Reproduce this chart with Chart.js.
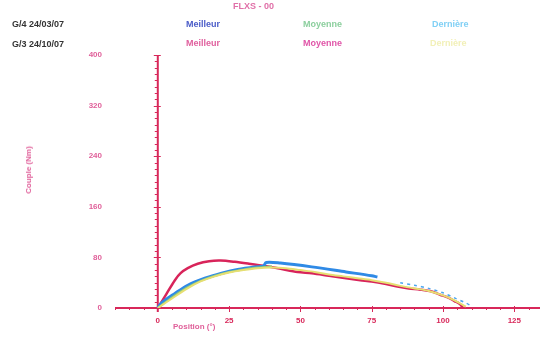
<!DOCTYPE html>
<html><head><meta charset="utf-8">
<script src="https://cdn.jsdelivr.net/npm/chart.js@4/dist/chart.umd.min.js"></script>
<style>
html,body{margin:0;padding:0;background:#fff;}
#wrap{position:relative;width:541px;height:338px;font-family:"Liberation Sans",Arial,sans-serif;font-weight:bold;font-size:9px;}
canvas{position:absolute;left:0;top:0;}
.t{position:absolute;white-space:nowrap;line-height:10px;}
</style></head>
<body>
<div id="wrap">
<canvas id="c" width="541" height="338"></canvas>
<div class="t" style="left:233px;top:1px;color:#e070a8;">FLXS - 00</div>
<div class="t" style="left:12px;top:19px;color:#333;">G/4 24/03/07</div>
<div class="t" style="left:12px;top:39px;color:#333;">G/3 24/10/07</div>
<div class="t" style="left:186px;top:19px;color:#4a5cc8;">Meilleur</div>
<div class="t" style="left:303px;top:19px;color:#8ccf9e;">Moyenne</div>
<div class="t" style="left:432px;top:19px;color:#80d0f5;">Dernière</div>
<div class="t" style="left:186px;top:38px;color:#e0609e;">Meilleur</div>
<div class="t" style="left:303px;top:38px;color:#e055a8;">Moyenne</div>
<div class="t" style="left:430px;top:38px;color:#f2f0b8;">Dernière</div>
<div class="t" style="left:29px;top:170px;color:#e0609a;font-size:8px;transform:translate(-50%,-50%) rotate(-90deg);">Couple (Nm)</div>
<div class="t" style="left:173px;top:322px;color:#e0609a;font-size:8px;">Position (°)</div>
</div>
<script>
const xTicks = [0, 25, 50, 75, 100, 125];
const yTicks = [0, 80, 160, 240, 320, 400];

const g3MeilleurX = [0, 3, 6, 8, 10.5, 14, 18, 22, 27, 32, 38, 43, 49, 54, 60, 66, 71, 75, 80, 84, 88, 92, 96, 99, 102, 104, 106, 107];
const g3MeilleurY = [0, 22, 44, 55, 63, 70, 74, 75, 73, 70, 66, 62, 57, 55, 51, 47, 44, 42, 38, 34, 31, 29, 26, 21, 16, 11, 6, 0];

const g4MeilleurX = [0, 1.3, 6, 10.5, 16.5, 22.4, 28, 34, 37, 38, 43, 54, 66, 75, 77];
const g4MeilleurY = [0, 8, 23, 36, 47, 55, 61, 65, 66, 72, 71, 65, 57, 51, 49];

const g4MoyenneX = [0, 5, 10, 15, 20, 25, 30, 35, 40];
const g4MoyenneY = [0, 17, 32, 43, 51, 57, 61, 64, 66];

const g3DerniereX = [0, 5, 10, 15, 20, 25, 30, 35, 40, 45, 50, 55, 60, 65, 70, 75, 80, 85, 90, 95, 100, 104, 108];
const g3DerniereY = [0, 15, 30, 42, 50, 56, 60, 63, 64, 63, 60, 57, 53, 50, 47, 44, 40, 35, 31, 27, 20, 12, 2];

const g4DerniereX = [85, 90, 95, 100, 104, 108, 110];
const g4DerniereY = [40, 36, 31, 24, 16, 8, 3];

const pts = (xs, ys) => xs.map((x, i) => ({x: x, y: ys[i]}));
const AXIS = '#d8285a';

const axisPlugin = {
  id: 'axes0',
  beforeDatasetsDraw(chart) {
    const {ctx, scales: {x, y}} = chart;
    const x0 = x.getPixelForValue(0), y0 = y.getPixelForValue(0);
    ctx.save();
    ctx.strokeStyle = AXIS;
    ctx.lineWidth = 2;
    ctx.beginPath();
    ctx.moveTo(x0, y.getPixelForValue(400)); ctx.lineTo(x0, y0 + 4);
    ctx.moveTo(x.left, y0); ctx.lineTo(x.right, y0);
    ctx.stroke();
    ctx.lineWidth = 1;
    ctx.beginPath();
    for (let v = 0; v <= 400; v += 10) {
      const p = Math.round(y.getPixelForValue(v)) + 0.5;
      const major = v % 80 === 0;
      ctx.moveTo(x0 - (major ? 4 : 3), p); ctx.lineTo(x0 + (major ? 3 : 0), p);
    }
    for (let v = -15; v <= 134; v += 5) {
      if (v === 0) continue;
      const p = Math.round(x.getPixelForValue(v)) + 0.5;
      const major = v % 25 === 0;
      ctx.moveTo(p, y0 - (major ? 2 : 1)); ctx.lineTo(p, y0 + (major ? 4 : 2));
    }
    ctx.stroke();
    ctx.restore();
  }
};

new Chart(document.getElementById('c'), {
  type: 'line',
  data: {
    datasets: [
      {label: 'G/3 Dernière', data: pts(g3DerniereX, g3DerniereY), borderColor: '#e6df72', borderWidth: 2},
      {label: 'G/4 Moyenne', data: pts(g4MoyenneX, g4MoyenneY), borderColor: '#8cc97a', borderWidth: 2},
      {label: 'G/4 Meilleur', data: pts(g4MeilleurX, g4MeilleurY), borderColor: '#2f8ae6', borderWidth: 3},
      {label: 'G/4 Dernière', data: pts(g4DerniereX, g4DerniereY), borderColor: '#4aa6ee', borderWidth: 1.5, borderDash: [3, 4]},
      {label: 'G/3 Meilleur', data: pts(g3MeilleurX, g3MeilleurY), borderColor: '#d8245a', borderWidth: 2.5}
    ]
  },
  options: {
    responsive: false,
    animation: false,
    elements: {point: {radius: 0}, line: {tension: 0.3, fill: false}},
    layout: {padding: {top: 55, right: 1, left: 0, bottom: 0}},
    plugins: {legend: {display: false}, title: {display: false}, tooltip: {enabled: false}},
    scales: {
      x: {
        type: 'linear', min: -15, max: 134,
        grid: {display: false}, border: {display: false},
        afterBuildTicks: s => { s.ticks = xTicks.map(v => ({value: v})); },
        afterFit: s => { s.height = 30; },
        ticks: {color: AXIS, padding: 0, font: {family: 'Liberation Sans', size: 8, weight: 'bold'}, maxRotation: 0}
      },
      y: {
        type: 'linear', min: 0, max: 400,
        grid: {display: false}, border: {display: false},
        afterBuildTicks: s => { s.ticks = yTicks.map(v => ({value: v})); },
        afterFit: s => { s.width = 115; },
        ticks: {color: '#e0609a', padding: 5, font: {family: 'Liberation Sans', size: 8, weight: 'bold'}}
      }
    }
  },
  plugins: [axisPlugin]
});
</script>
</body></html>
